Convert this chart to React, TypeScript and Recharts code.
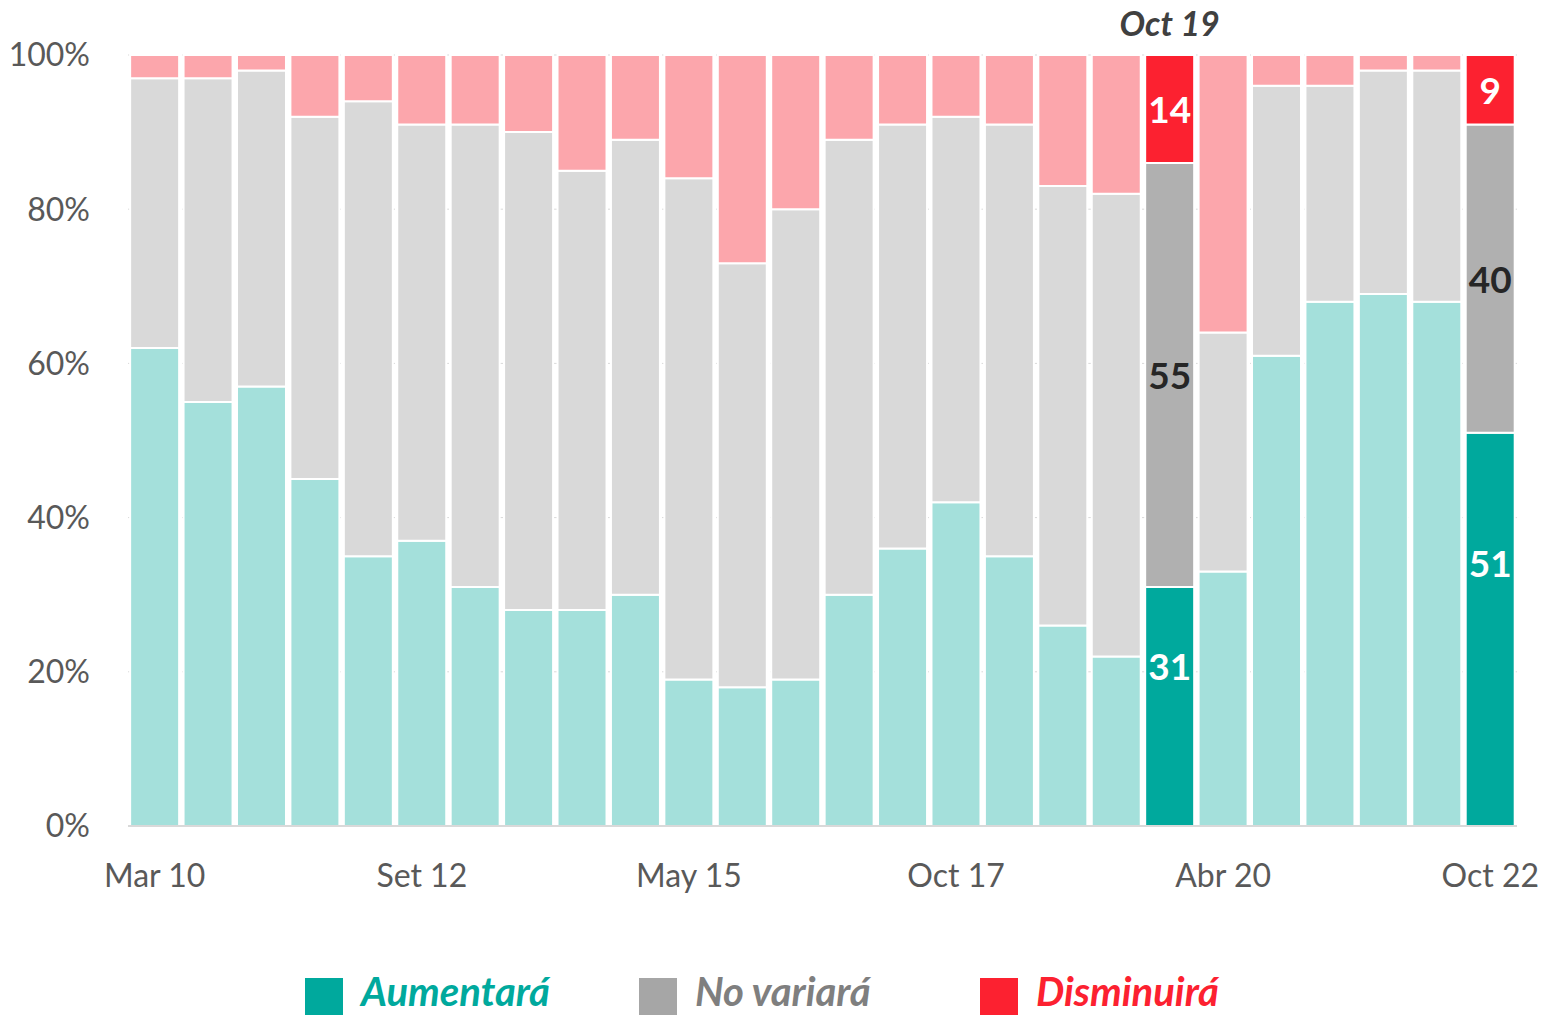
import React from 'react';
import { BarChart, Bar, XAxis, YAxis, CartesianGrid, Legend, LabelList, Cell } from 'recharts';

const categories = [
  'Mar 10', 'Set 10', 'Mar 11', 'Set 11', 'Mar 12', 'Set 12', 'Mar 13', 'Set 13', 'Mar 14', 'Set 14',
  'May 15', 'Oct 15', 'May 16', 'Oct 16', 'May 17', 'Oct 17', 'May 18', 'Oct 18', 'May 19', 'Oct 19',
  'Abr 20', 'Oct 20', 'Abr 21', 'Oct 21', 'Abr 22', 'Oct 22',
];
const aumentara = [62, 55, 57, 45, 35, 37, 31, 28, 28, 30, 19, 18, 19, 30, 36, 42, 35, 26, 22, 31, 33, 61, 68, 69, 68, 51];
const noVariara = [35, 42, 41, 47, 59, 54, 60, 62, 57, 59, 65, 55, 61, 59, 55, 50, 56, 57, 60, 55, 31, 35, 28, 29, 30, 40];
const disminuira = [3, 3, 2, 8, 6, 9, 9, 10, 15, 11, 16, 27, 20, 11, 9, 8, 9, 17, 18, 14, 36, 4, 4, 2, 2, 9];
// bars drawn in strong colour and labelled
const highlighted = ['Oct 19', 'Oct 22'];
const titled = 'Oct 19';
const yTicks = [0, 0.2, 0.4, 0.6, 0.8, 1];

const series = [
  { key: 'up', name: 'Aumentará', strong: '#00A99D', light: '#A4E0DB', text: '#00A99D', labelColor: '#FFFFFF', pos: 0.33 },
  { key: 'same', name: 'No variará', strong: '#B0B0B0', light: '#D9D9D9', text: '#7F7F7F', labelColor: '#262626', pos: 0.5 },
  { key: 'down', name: 'Disminuirá', strong: '#FC2130', light: '#FCA6AC', text: '#FC2130', labelColor: '#FFFFFF', pos: 0.5 },
];

const data = categories.map((c, i) => {
  const hl = highlighted.includes(c);
  return {
    name: c,
    hl,
    up: aumentara[i],
    same: noVariara[i],
    down: disminuira[i],
    upLbl: hl ? aumentara[i] : null,
    sameLbl: hl ? noVariara[i] : null,
    downLbl: hl ? disminuira[i] : null,
    title: c === titled ? c : null,
  };
});

const FONT = 'Lato, "Open Sans", sans-serif';

const valueLabel = (color: string, pos: number) => (props: any) => {
  const { x, y, width, height, value } = props;
  if (value === null || value === undefined) return null;
  return (
    <text
      x={x + width / 2}
      y={y + height * pos}
      textAnchor="middle"
      dominantBaseline="central"
      fill={color}
      fontSize={37}
      fontWeight={700}
      fontFamily={FONT}
    >
      {value}
    </text>
  );
};

const titleLabel = (props: any) => {
  const { x, y, width, value } = props;
  if (!value) return null;
  return (
    <text
      x={x + width / 2}
      y={y - 33}
      textAnchor="middle"
      dominantBaseline="central"
      fill="#404040"
      fontSize={34}
      fontWeight={700}
      fontStyle="italic"
      fontFamily={FONT}
    >
      {value}
    </text>
  );
};

const legendLefts = [305, 639, 980];

// legend area spans the bottom 70px of the chart
const LegendBox = () => (
  <div style={{ position: 'relative', width: 1542, height: 70 }}>
    {series.map((s, i) => (
      <div key={s.key} style={{ position: 'absolute', left: legendLefts[i], top: 0, height: 70 }}>
        <div
          style={{ position: 'absolute', left: 0, top: 31, width: 38, height: 37, background: i === 1 ? '#A6A6A6' : s.strong }}
        />
        <span
          style={{
            position: 'absolute',
            left: 56,
            top: 20,
            color: s.text,
            fontFamily: FONT,
            fontSize: 40,
            fontWeight: 700,
            fontStyle: 'italic',
            lineHeight: '48px',
            whiteSpace: 'nowrap',
          }}
        >
          {s.name}
        </span>
      </div>
    ))}
  </div>
);

export default function App() {
  return (
    <div style={{ position: 'absolute', left: 0, top: 0, width: 1542, height: 1017, background: '#fff' }}>
      <BarChart
        width={1542}
        height={1017}
        data={data}
        stackOffset="expand"
        barCategoryGap="4%"
        margin={{ top: 55, right: 25, bottom: 0, left: 0 }}
        style={{ fontFamily: FONT }}
      >
        <CartesianGrid vertical={false} stroke="#D9D9D9" strokeDasharray="3 3" />
        <XAxis
          dataKey="name"
          interval={4}
          height={121}
          tickLine={false}
          tickSize={0}
          tickMargin={38}
          axisLine={{ stroke: '#D9D9D9', strokeWidth: 2 }}
          tick={{ fill: '#595959', fontSize: 32, fontFamily: FONT }}
        />
        <YAxis
          width={128}
          domain={[0, 1]}
          ticks={yTicks}
          tickFormatter={(v: number) => `${Math.round(v * 100)}%`}
          axisLine={false}
          tickLine={false}
          tickSize={0}
          tickMargin={38}
          tick={{ fill: '#595959', fontSize: 32, fontFamily: FONT }}
        />
        <Legend
          verticalAlign="bottom"
          content={() => <LegendBox />}
          wrapperStyle={{ left: 0, bottom: 0, width: 1542, height: 70 }}
        />
        {series.map((s) => (
          <Bar
            key={s.key}
            dataKey={s.key}
            name={s.name}
            stackId="a"
            stroke="#FFFFFF"
            strokeWidth={2}
            isAnimationActive={false}
          >
            {data.map((d) => (
              <Cell key={d.name} fill={d.hl ? s.strong : s.light} />
            ))}
            <LabelList dataKey={`${s.key}Lbl`} content={valueLabel(s.labelColor, s.pos)} />
            {s.key === 'down' && <LabelList dataKey="title" content={titleLabel} />}
          </Bar>
        ))}
      </BarChart>
    </div>
  );
}
